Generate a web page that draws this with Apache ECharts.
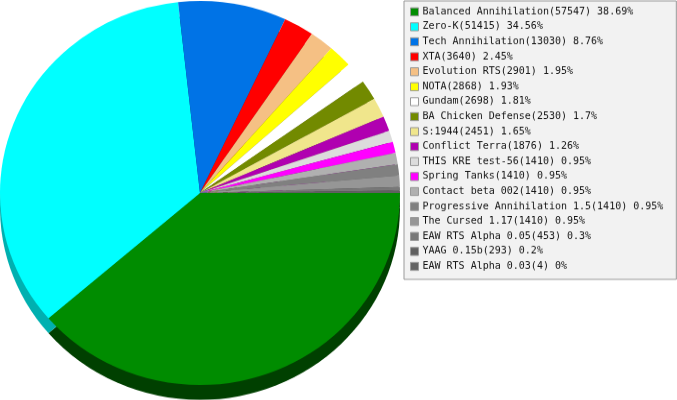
<!DOCTYPE html>
<html>
<head>
<meta charset="utf-8">
<script src="https://cdn.jsdelivr.net/npm/echarts@6/dist/echarts.min.js"></script>
<style>
html,body{margin:0;padding:0;background:#fff;overflow:hidden;}
#wrap{width:677px;height:400px;overflow:hidden;position:relative;}
#c{width:677px;height:417px;transform:scaleY(0.96);transform-origin:0 0;position:absolute;left:0;top:0;}
</style>
</head>
<body>
<div id="wrap"><div id="c"></div></div>
<script>
var names = ["Balanced Annihilation","Zero-K","Tech Annihilation","XTA","Evolution RTS","NOTA","Gundam","BA Chicken Defense","S:1944","Conflict Terra","THIS KRE test-56","Spring Tanks","Contact beta 002","Progressive Annihilation 1.5","The Cursed 1.17","EAW RTS Alpha 0.05","YAAG 0.15b","EAW RTS Alpha 0.03"];
var values = [57547,51415,13030,3640,2901,2868,2698,2530,2451,1876,1410,1410,1410,1410,1410,453,293,4];

var palette = ["#008c00","#00ffff","#0073e6","#ff0000","#f5c084","#ffff00","#ffffff","#728a00","#f0e68c","#b000b0","#dcdcdc","#ff00ff","#b0b0b0","#808080","#969696","#787878","#606060","#646464"];
var sidePalette = ["#004000","#00b0b0","#003a73","#800000","#7a6042","#808000","#808080","#394500","#787346","#580058","#6e6e6e","#800080","#585858","#404040","#4b4b4b","#3c3c3c","#303030","#323232"];

var total = values.reduce(function(a,b){return a+b;},0);
function pct(v){ return String(Math.round(v/total*10000)/100); }

var topData = names.map(function(n,i){ return {name:n, value:values[i], itemStyle:{color:palette[i]}}; });
var sideData = names.map(function(n,i){ return {name:n, value:values[i], itemStyle:{color:sidePalette[i]}}; });

var chart = echarts.init(document.getElementById('c'), null, {renderer:'canvas'});
chart.setOption({
  animation:false,
  legend:{
    orient:'vertical',
    left:404, top:1,
    data:names,
    backgroundColor:'#f2f2f2',
    borderColor:'#999999',
    borderWidth:1,
    borderRadius:0,
    padding:[6.3,13,8.5,6],
    itemWidth:8, itemHeight:8.3, itemGap:5.6,
    icon:'rect',
    selectedMode:false,
    itemStyle:{borderColor:'#999999', borderWidth:1},
    textStyle:{fontFamily:'DejaVu Sans Mono', fontSize:10, color:'#111111', lineHeight:10, padding:[0,0,0,-1]},
    formatter:function(name){
      var i = names.indexOf(name);
      return name + '(' + values[i] + ') ' + pct(values[i]) + '%';
    }
  },
  series:[
    {
      type:'pie', name:'top', z:3,
      center:[200,201], radius:[0,200],
      startAngle:0, clockwise:true,
      label:{show:false}, labelLine:{show:false},
      itemStyle:{borderWidth:0},
      emphasis:{disabled:true},
      data:topData
    },
    {
      type:'pie', name:'side', z:2, silent:true,
      center:[200,216.5], radius:[0,200],
      startAngle:0, clockwise:true,
      label:{show:false}, labelLine:{show:false},
      itemStyle:{borderWidth:0},
      emphasis:{disabled:true},
      data:sideData
    }
  ]
});
</script>
</body>
</html>
